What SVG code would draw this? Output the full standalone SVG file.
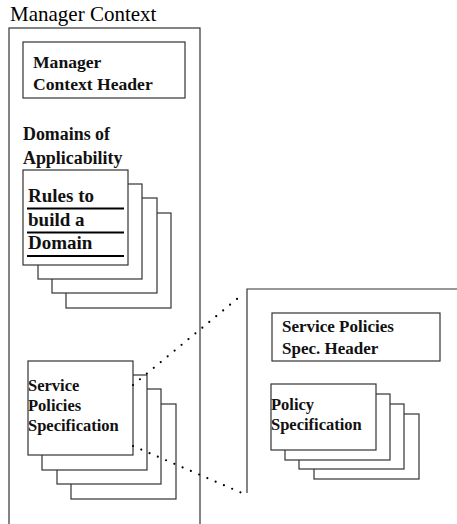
<svg xmlns="http://www.w3.org/2000/svg" width="457" height="524" viewBox="0 0 457 524">
  <style>
    .frame { fill: none; stroke: #333; stroke-width: 1.2; }
    .box { fill: #fff; stroke: #333; stroke-width: 1.2; }
    .title { font-family: "Liberation Serif", "Times New Roman", serif; font-size: 21px; fill: #000; }
    .lbl { font-family: "Liberation Serif", "Times New Roman", serif; font-weight: bold; fill: #111; }
    .rule { stroke: #000; stroke-width: 2; }
    .dots { fill: none; stroke: #000; stroke-width: 2.2; stroke-linecap: round; stroke-dasharray: 0 9; }
  </style>

  <!-- Manager Context container -->
  <g id="manager-context">
    <text class="title" x="10" y="21">Manager Context</text>
    <rect class="frame" x="9" y="28" width="191" height="510"/>
  </g>

  <g id="manager-context-header">
    <rect class="box" x="23" y="42" width="162" height="56"/>
    <text class="lbl" font-size="17.6" x="33" y="68">Manager</text>
    <text class="lbl" font-size="17.6" x="33" y="90">Context Header</text>
  </g>

  <g id="domains-of-applicability">
    <text class="lbl" font-size="17.9" x="23" y="140">Domains of</text>
    <text class="lbl" font-size="17.9" x="23" y="164">Applicability</text>
  </g>

  <!-- stacked rule cards -->
  <g id="rules-stack">
    <rect class="box" x="66" y="213" width="105" height="95"/>
    <rect class="box" x="52" y="198" width="105" height="95"/>
    <rect class="box" x="38" y="184" width="104" height="95"/>
    <rect class="box" x="23" y="170" width="105" height="95"/>
    <text class="lbl" font-size="19" x="28" y="202">Rules to</text>
    <text class="lbl" font-size="19" x="28" y="226">build a</text>
    <text class="lbl" font-size="19" x="28" y="249">Domain</text>
    <line class="rule" x1="27" y1="208.5" x2="124" y2="208.5"/>
    <line class="rule" x1="27" y1="232.5" x2="124" y2="232.5"/>
    <line class="rule" x1="27" y1="256" x2="124" y2="256"/>
  </g>

  <!-- stacked service policies specifications -->
  <g id="service-policies-stack">
    <rect class="box" x="71" y="404" width="105" height="95"/>
    <rect class="box" x="57" y="389" width="104" height="95"/>
    <rect class="box" x="42" y="375" width="105" height="95"/>
    <rect class="box" x="28" y="361" width="105" height="94"/>
    <text class="lbl" font-size="16.5" x="28" y="391">Service</text>
    <text class="lbl" font-size="16.5" x="28" y="411">Policies</text>
    <text class="lbl" font-size="16.5" x="28" y="431">Specification</text>
  </g>

  <!-- Service Policies Specification detail container -->
  <g id="service-policies-detail">
    <polyline class="frame" points="247,493 247,289 460,289"/>
  </g>

  <g id="service-policies-spec-header">
    <rect class="box" x="272" y="313" width="168" height="48"/>
    <text class="lbl" font-size="17" x="282" y="332">Service Policies</text>
    <text class="lbl" font-size="17" x="282" y="354">Spec. Header</text>
  </g>

  <g id="policy-stack">
    <rect class="box" x="314" y="414" width="105" height="65"/>
    <rect class="box" x="299" y="404" width="105" height="65"/>
    <rect class="box" x="285" y="394" width="105" height="66"/>
    <rect class="box" x="271" y="384" width="105" height="66"/>
    <text class="lbl" font-size="16.5" x="271" y="410">Policy</text>
    <text class="lbl" font-size="16.5" x="271" y="430">Specification</text>
  </g>

  <!-- zoom connectors -->
  <g id="connectors">
    <line class="dots" x1="133" y1="385" x2="243" y2="294"/>
    <line class="dots" x1="133" y1="446" x2="242" y2="493"/>
  </g>
</svg>
